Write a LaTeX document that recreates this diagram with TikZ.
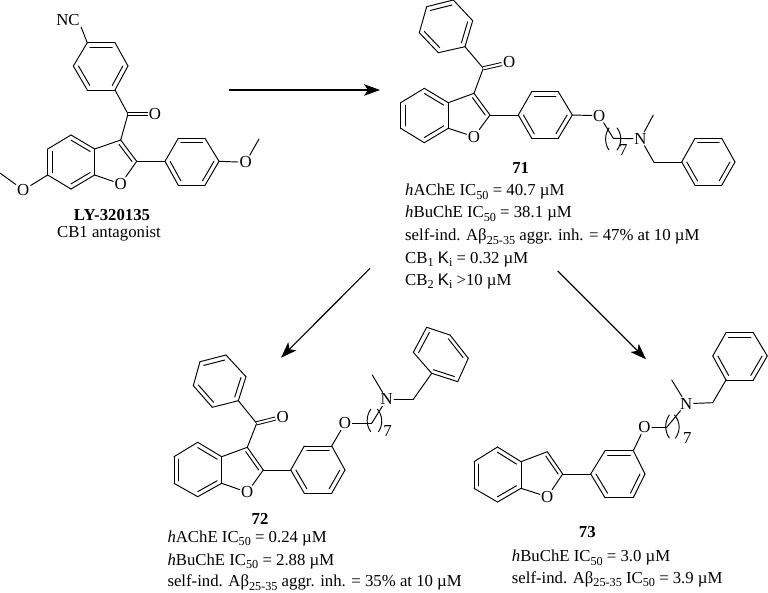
\documentclass[tikz,border=0pt]{standalone}
\usepackage{fontspec}
\setmainfont{Liberation Serif}
\newfontfamily\ksans{Liberation Sans}
\usetikzlibrary{arrows.meta,calc}
\newcommand\atm[3]{\coordinate (#1) at (#2,#3);}
\newcommand\bonds[1]{\foreach \p/\q in {#1}{\draw[bond] (\p) -- (\q);}}
\newcommand\inner[2]{\foreach \p/\q in {#2}{\draw[bond] ($(\p)!.19!(#1)$) -- ($(\q)!.19!(#1)$);}}
\newcommand\lowtxt[1]{\raisebox{-0.22em}{\fontsize{12.2}{13}\selectfont #1}}
\newcommand\kk{{\ksans K}\lowtxt{i}}
\begin{document}
\begin{tikzpicture}[x=1pt,y=-1pt,
  bond/.style={line width=0.95pt,line cap=round,line join=round,black},
  cbond/.style={bond,double,double distance=2.2pt,line cap=butt},
  atom/.style={font=\fontsize{16.8}{17}\selectfont,inner sep=1.2pt},
  idx/.style={font=\fontsize{16.8}{17}\selectfont,inner sep=0pt},
  title/.style={font=\fontsize{16.75}{17}\selectfont\bfseries,inner sep=0pt},
  caption/.style={font=\fontsize{16.75}{17}\selectfont,inner sep=0pt},
  datum/.style={font=\fontsize{16.75}{17}\selectfont,anchor=base west,inner sep=0pt},
  react/.style={line width=1.15pt,-{Stealth[length=16pt,width=11.5pt,inset=4pt]},black}]
\useasboundingbox (0,0) rectangle (768,592);
\fill[white] (0,0) rectangle (768,592);

% ---------- LY-320135 ----------
\atm{La}{87.3}{42.7}\atm{Lb}{115}{42.7}\atm{Lc}{128}{66}\atm{Ld}{115}{90}\atm{Le}{87.3}{90}\atm{Lf}{73.3}{66}
\atm{Lr1}{100.6}{66}
\atm{Lco}{128}{114}
\atm{Lc3}{120.7}{140}\atm{Lc2}{136.7}{161.3}\atm{Lc7a}{94.7}{175}\atm{Lc3a}{94.7}{149}
\atm{Lc4}{71}{135}\atm{Lc5}{47.7}{149}\atm{Lc6}{47.7}{175}\atm{Lc7}{71}{189}
\atm{Lr2}{71}{162}\atm{Lr3}{112}{163}
\atm{Lp1}{165}{161.3}\atm{Lp2}{178.3}{138.3}\atm{Lp3}{205}{138.3}\atm{Lp4}{219}{161.3}\atm{Lp5}{205}{185.3}\atm{Lp6}{178.3}{185.3}
\atm{Lr4}{192}{161.8}
\atm{Lme1}{0}{173}\atm{Lme2}{259}{139}
\node[atom] (Lnc) at (68,20) {NC};
\node[atom] (Lo) at (155,114) {O};
\node[atom] (Lo1) at (120.7,184) {O};
\node[atom] (Lo2) at (23.3,190) {O};
\node[atom] (Lo3) at (245.7,162.3) {O};
\draw[bond] (La) -- (Lnc.south east);
\bonds{La/Lb,Lb/Lc,Lc/Ld,Ld/Le,Le/Lf,Lf/La,Ld/Lco,Lco/Lc3,Lc3/Lc2,Lc2/Lo1,Lo1/Lc7a,Lc7a/Lc3a,Lc3a/Lc3,
  Lc3a/Lc4,Lc4/Lc5,Lc5/Lc6,Lc6/Lc7,Lc7/Lc7a,Lc6/Lo2,Lo2/Lme1,Lc2/Lp1,
  Lp1/Lp2,Lp2/Lp3,Lp3/Lp4,Lp4/Lp5,Lp5/Lp6,Lp6/Lp1,Lp4/Lo3,Lo3/Lme2}
\inner{Lr1}{La/Lb,Lc/Ld,Le/Lf}
\inner{Lr2}{Lc3a/Lc4,Lc5/Lc6,Lc7/Lc7a}
\inner{Lr3}{Lc3/Lc2}
\inner{Lr4}{Lp2/Lp3,Lp4/Lp5,Lp6/Lp1}
\draw[cbond] (Lco) -- (Lo);
\node[title] (Lname) at (112,215) {LY-320135};
\node[caption] (Lrole) at (109,234) {CB1 antagonist};

% ---------- 71 ----------
\atm{Aa}{453.3}{0}\atm{Ab}{472.7}{20.7}\atm{Ac}{465}{46.7}\atm{Ad}{438.3}{52.7}\atm{Ae}{419.3}{32.7}\atm{Af}{426.7}{6.7}
\atm{Ar1}{446}{26.5}
\atm{Aco}{483.3}{68.3}
\atm{Ac3}{474}{93.3}\atm{Ac2}{490}{115}\atm{Ac7a}{448.3}{128.3}\atm{Ac3a}{448.3}{102.7}
\atm{Ac4}{424.3}{88.3}\atm{Ac5}{400.7}{102.7}\atm{Ac6}{400.7}{128.3}\atm{Ac7}{424.3}{142.7}
\atm{Ar2}{424.5}{115.5}\atm{Ar3}{465.5}{116}
\atm{Ap1}{518.3}{115}\atm{Ap2}{531.7}{91.7}\atm{Ap3}{558.3}{91.7}\atm{Ap4}{572.3}{115}\atm{Ap5}{558.3}{138.3}\atm{Ap6}{531.7}{138.3}
\atm{Ar4}{545.3}{115}
\atm{Ach1}{613.3}{138.3}
\atm{Ame}{653.3}{115}\atm{Ach2}{653.8}{162}
\atm{Ab1}{681.7}{162}\atm{Ab2}{695}{138.3}\atm{Ab3}{721.7}{138.3}\atm{Ab4}{735}{162}\atm{Ab5}{721.7}{185.3}\atm{Ab6}{695}{185.3}
\atm{Ar5}{708.4}{162}
\node[atom] (Ao) at (509.3,62.3) {O};
\node[atom] (Ao1) at (474,136.7) {O};
\node[atom] (Ao2) at (599.3,115.7) {O};
\node[atom] (An) at (640.5,138.8) {N};
\bonds{Aa/Ab,Ab/Ac,Ac/Ad,Ad/Ae,Ae/Af,Af/Aa,Ac/Aco,Aco/Ac3,Ac3/Ac2,Ac2/Ao1,Ao1/Ac7a,Ac7a/Ac3a,Ac3a/Ac3,
  Ac3a/Ac4,Ac4/Ac5,Ac5/Ac6,Ac6/Ac7,Ac7/Ac7a,Ac2/Ap1,
  Ap1/Ap2,Ap2/Ap3,Ap3/Ap4,Ap4/Ap5,Ap5/Ap6,Ap6/Ap1,Ap4/Ao2,Ao2/Ach1,Ach1/An,An/Ame,An/Ach2,Ach2/Ab1,
  Ab1/Ab2,Ab2/Ab3,Ab3/Ab4,Ab4/Ab5,Ab5/Ab6,Ab6/Ab1}
\inner{Ar1}{Aa/Af,Ab/Ac,Ad/Ae}
\inner{Ar2}{Ac3a/Ac4,Ac5/Ac6,Ac7/Ac7a}
\inner{Ar3}{Ac3/Ac2}
\inner{Ar4}{Ap2/Ap3,Ap4/Ap5,Ap6/Ap1}
\inner{Ar5}{Ab2/Ab3,Ab4/Ab5,Ab6/Ab1}
\draw[cbond] (Aco) -- (Ao);
\atm{Abl1}{609}{128}\atm{Abl2}{609}{150}\atm{Abr1}{617}{128}\atm{Abr2}{617}{150}
\draw[bond] (Abl1) .. controls (604.5,134) and (604.5,144) .. (Abl2);
\draw[bond] (Abr1) .. controls (622,134) and (622,144) .. (Abr2);
\node[idx] (A7) at (623.3,150) {7};
\node[title] (Aname) at (520.7,168.3) {71};
\node[datum] (Al1) at (405,195.5) {\textit{h}AChE IC\lowtxt{50} = 40.7 µM};
\node[datum] (Al2) at (405,217.5) {\textit{h}BuChE IC\lowtxt{50} = 38.1 µM};
\node[datum] (Al3) at (405,240.5) {self-ind. Aβ\lowtxt{25-35} aggr. inh. = 47\% at 10 µM};
\node[datum] (Al4) at (405,263) {CB\lowtxt{1} \kk{} = 0.32 µM};
\node[datum] (Al5) at (405,285) {CB\lowtxt{2} \kk{} >10 µM};

% ---------- 72 ----------
\atm{Ba}{226}{355}\atm{Bb}{246}{376.7}\atm{Bc}{238.3}{400.7}\atm{Bd}{212.3}{407.3}\atm{Be}{193.3}{385.7}\atm{Bf}{200}{361.7}
\atm{Br1}{219.5}{381.3}
\atm{Bco}{256.7}{423.3}
\atm{Bc3}{247.3}{447.3}\atm{Bc2}{263.3}{470}\atm{Bc7a}{221.7}{483.3}\atm{Bc3a}{221.7}{456.7}
\atm{Bc4}{197.7}{442.3}\atm{Bc5}{174}{456.7}\atm{Bc6}{174}{483.3}\atm{Bc7}{197.7}{496.7}
\atm{Br2}{197.8}{470}\atm{Br3}{239}{470}
\atm{Bp1}{290.7}{470}\atm{Bp2}{304.3}{446}\atm{Bp3}{331.7}{446}\atm{Bp4}{345}{470}\atm{Bp5}{331.7}{493.3}\atm{Bp6}{304.3}{493.3}
\atm{Br4}{318}{470}
\atm{Bch1}{371.7}{423.3}
\atm{Bme}{372.3}{375}\atm{Bch2}{413.3}{399.3}
\atm{Bb1}{431.7}{373.3}\atm{Bb2}{413.3}{352.3}\atm{Bb3}{426.7}{327.3}\atm{Bb4}{450}{335}\atm{Bb5}{468.3}{358.3}\atm{Bb6}{457.7}{381.7}
\atm{Br5}{440.8}{354.5}
\node[atom] (Bo) at (282.7,416.7) {O};
\node[atom] (Bo1) at (247.3,492.3) {O};
\node[atom] (Bo2) at (345,423.3) {O};
\node[atom] (Bn) at (386.7,399.3) {N};
\bonds{Ba/Bb,Bb/Bc,Bc/Bd,Bd/Be,Be/Bf,Bf/Ba,Bc/Bco,Bco/Bc3,Bc3/Bc2,Bc2/Bo1,Bo1/Bc7a,Bc7a/Bc3a,Bc3a/Bc3,
  Bc3a/Bc4,Bc4/Bc5,Bc5/Bc6,Bc6/Bc7,Bc7/Bc7a,Bc2/Bp1,
  Bp1/Bp2,Bp2/Bp3,Bp3/Bp4,Bp4/Bp5,Bp5/Bp6,Bp6/Bp1,Bp3/Bo2,Bo2/Bch1,Bch1/Bn,Bn/Bme,Bn/Bch2,Bch2/Bb1,
  Bb1/Bb2,Bb2/Bb3,Bb3/Bb4,Bb4/Bb5,Bb5/Bb6,Bb6/Bb1}
\inner{Br1}{Ba/Bf,Bb/Bc,Bd/Be}
\inner{Br2}{Bc3a/Bc4,Bc5/Bc6,Bc7/Bc7a}
\inner{Br3}{Bc3/Bc2}
\inner{Br4}{Bp2/Bp3,Bp4/Bp5,Bp6/Bp1}
\inner{Br5}{Bb2/Bb3,Bb4/Bb5,Bb6/Bb1}
\draw[cbond] (Bco) -- (Bo);
\atm{Bbl1}{370.7}{409.3}\atm{Bbl2}{370.7}{431.7}\atm{Bbr1}{377.5}{409.3}\atm{Bbr2}{378.5}{431.7}
\draw[bond] (Bbl1) .. controls (366,416) and (366,425) .. (Bbl2);
\draw[bond] (Bbr1) .. controls (383,416) and (383,425) .. (Bbr2);
\node[idx] (B7) at (387.5,431) {7};
\node[title] (Bname) at (260,519) {72};
\node[datum] (Bl1) at (167.3,542) {\textit{h}AChE IC\lowtxt{50} = 0.24 µM};
\node[datum] (Bl2) at (167.3,565) {\textit{h}BuChE IC\lowtxt{50} = 2.88 µM};
\node[datum] (Bl3) at (167.3,586.5) {self-ind. Aβ\lowtxt{25-35} aggr. inh. = 35\% at 10 µM};

% ---------- 73 ----------
\atm{Cc3}{547.3}{451.7}\atm{Cc2}{562.7}{474}\atm{Cc7a}{521}{488.3}\atm{Cc3a}{521}{461.7}
\atm{Cc4}{497.5}{447}\atm{Cc5}{474}{461.7}\atm{Cc6}{474}{488.3}\atm{Cc7}{497.5}{502}
\atm{Cr2}{497.5}{474.5}\atm{Cr3}{539}{474.5}
\atm{Cp1}{590.7}{474}\atm{Cp2}{605}{450.7}\atm{Cp3}{633.3}{450.7}\atm{Cp4}{645}{474}\atm{Cp5}{633.3}{497.7}\atm{Cp6}{605}{497.7}
\atm{Cr4}{618.5}{474}
\atm{Cch1}{666.7}{427.3}
\atm{Cme}{671.7}{380}\atm{Cch2}{712.7}{402.7}
\atm{Cb1}{726}{380}\atm{Cb2}{712.7}{356}\atm{Cb3}{726}{332.7}\atm{Cb4}{753.3}{332.7}\atm{Cb5}{767.3}{356}\atm{Cb6}{753.3}{380}
\atm{Cr5}{740}{356}
\node[atom] (Co1) at (547.3,496.7) {O};
\node[atom] (Co2) at (644.5,427.3) {O};
\node[atom] (Cn) at (686.3,403.7) {N};
\bonds{Cc3/Cc2,Cc2/Co1,Co1/Cc7a,Cc7a/Cc3a,Cc3a/Cc3,
  Cc3a/Cc4,Cc4/Cc5,Cc5/Cc6,Cc6/Cc7,Cc7/Cc7a,Cc2/Cp1,
  Cp1/Cp2,Cp2/Cp3,Cp3/Cp4,Cp4/Cp5,Cp5/Cp6,Cp6/Cp1,Cp3/Co2,Co2/Cch1,Cch1/Cn,Cn/Cme,Cn/Cch2,Cch2/Cb1,
  Cb1/Cb2,Cb2/Cb3,Cb3/Cb4,Cb4/Cb5,Cb5/Cb6,Cb6/Cb1}
\inner{Cr2}{Cc3a/Cc4,Cc5/Cc6,Cc7/Cc7a}
\inner{Cr3}{Cc3/Cc2}
\inner{Cr4}{Cp2/Cp3,Cp4/Cp5,Cp6/Cp1}
\inner{Cr5}{Cb3/Cb4,Cb5/Cb6,Cb1/Cb2}
\atm{Cbl1}{669.3}{415}\atm{Cbl2}{669.3}{438}\atm{Cbr1}{674.5}{415}\atm{Cbr2}{675.5}{438}
\draw[bond] (Cbl1) .. controls (664.5,422) and (664.5,431) .. (Cbl2);
\draw[bond] (Cbr1) .. controls (680.5,422) and (680.5,431) .. (Cbr2);
\node[idx] (C7) at (687.3,437.5) {7};
\node[title] (Cname) at (587.3,532.3) {73};
\node[datum] (Cl1) at (511.7,561.7) {\textit{h}BuChE IC\lowtxt{50} = 3.0 µM};
\node[datum] (Cl2) at (511.7,583.3) {self-ind. Aβ\lowtxt{25-35} IC\lowtxt{50} = 3.9 µM};

% ---------- reaction arrows ----------
\coordinate (R1s) at (229,90);\coordinate (R1e) at (380,90);
\coordinate (R2s) at (370,268.3);\coordinate (R2e) at (281,357.7);
\coordinate (R3s) at (557.7,271);\coordinate (R3e) at (646,359.3);
\draw[react] (R1s) -- (R1e);
\draw[react] (R2s) -- (R2e);
\draw[react] (R3s) -- (R3e);
\end{tikzpicture}
\end{document}
